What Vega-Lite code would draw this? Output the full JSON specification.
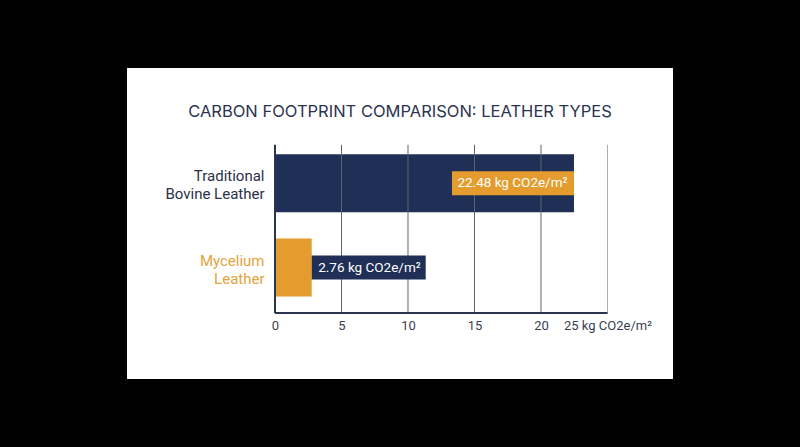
{
  "$schema": "https://vega.github.io/schema/vega-lite/v6.json",
  "description": "Carbon footprint of bovine vs mycelium leather, horizontal bars on a white card.",
  "width": 546,
  "height": 311,
  "autosize": {"type": "none"},
  "padding": {"left": 127, "right": 127, "top": 68, "bottom": 68},
  "background": "#000000",
  "title": {
    "text": "CARBON FOOTPRINT COMPARISON: LEATHER TYPES",
    "frame": "group",
    "anchor": "middle",
    "offset": -52,
    "font": "Inter",
    "fontSize": 16.5,
    "fontWeight": 400,
    "color": "#2b3350"
  },
  "data": {
    "values": [
      {"leather": "Traditional Bovine Leather", "co2": 22.48, "label": "22.48 kg CO2e/m²"},
      {"leather": "Mycelium Leather", "co2": 2.76, "label": "2.76 kg CO2e/m²"}
    ]
  },
  "layer": [
    {
      "mark": {"type": "bar"},
      "encoding": {
        "x": {
          "field": "co2",
          "type": "quantitative",
          "scale": {"domain": [-11.128, 29.925], "nice": false, "zero": false},
          "axis": {
            "title": null,
            "values": [0, 5, 10, 15, 20, 25],
            "offset": -68,
            "domain": false,
            "ticks": false,
            "grid": false,
            "labelPadding": 8,
            "labelFont": "Roboto",
            "labelFontSize": 13,
            "labelColor": "#3a3f4f",
            "labelOverlap": false,
            "labelFlush": false,
            "labelExpr": "datum.value == 25 ? '25 kg CO2e/m²' : datum.label"
          }
        },
        "x2": {"datum": 0},
        "y": {
          "field": "leather",
          "type": "nominal",
          "scale": {
            "domain": ["Traditional Bovine Leather", "Mycelium Leather"],
            "paddingInner": 0.3125,
            "paddingOuter": 1.1,
            "align": 0.511,
            "round": false
          },
          "axis": {
            "title": null,
            "offset": -148,
            "domain": false,
            "ticks": false,
            "grid": false,
            "labelPadding": 11,
            "labelOffset": -7,
            "labelFont": "Roboto",
            "labelFontSize": 15,
            "labelLineHeight": 18,
            "labelLimit": 200,
            "labelColor": {
              "condition": {"test": "datum.value == 'Mycelium Leather'", "value": "#e2a43c"},
              "value": "#2a3148"
            },
            "labelExpr": "[slice(datum.value, 0, indexof(datum.value, ' ')), slice(datum.value, indexof(datum.value, ' ') + 1)]"
          }
        },
        "color": {
          "condition": {"test": "datum.leather == 'Mycelium Leather'", "value": "#e39c2d"},
          "value": "#1f2f55"
        }
      }
    },
    {
      "data": {"values": [{"tick": 0}, {"tick": 5}, {"tick": 10}, {"tick": 15}, {"tick": 20}, {"tick": 25}]},
      "mark": {"type": "rule", "yOffset": -38.4, "y2Offset": 45.6},
      "encoding": {
        "x": {"field": "tick", "type": "quantitative"},
        "y": {"datum": "Traditional Bovine Leather"},
        "y2": {"datum": "Mycelium Leather"},
        "color": {
          "condition": [
            {"test": "datum.tick == 0", "value": "#2b3450"},
            {"test": "datum.tick == 25", "value": "#a9adb4"}
          ],
          "value": "#5f6472"
        },
        "strokeWidth": {"condition": {"test": "datum.tick == 0", "value": 2}, "value": 1}
      }
    },
    {
      "data": {"values": [{}]},
      "mark": {"type": "rule", "yOffset": 45.6, "strokeWidth": 2, "color": "#2b3450"},
      "encoding": {
        "x": {"datum": 0},
        "x2": {"datum": 25},
        "y": {"datum": "Mycelium Leather"}
      }
    },
    {
      "transform": [{"filter": "datum.leather == 'Traditional Bovine Leather'"}],
      "mark": {"type": "bar", "height": 24, "xOffset": -122, "color": "#e39c2d"},
      "encoding": {
        "x": {"field": "co2", "type": "quantitative"},
        "x2": {"field": "co2"},
        "y": {"field": "leather", "type": "nominal"}
      }
    },
    {
      "transform": [{"filter": "datum.leather == 'Mycelium Leather'"}],
      "mark": {"type": "bar", "height": 24, "x2Offset": 114, "color": "#1f2f55"},
      "encoding": {
        "x": {"field": "co2", "type": "quantitative"},
        "x2": {"field": "co2"},
        "y": {"field": "leather", "type": "nominal"}
      }
    },
    {
      "transform": [{"filter": "datum.leather == 'Traditional Bovine Leather'"}],
      "mark": {"type": "text", "align": "right", "baseline": "middle", "dx": -6.5, "font": "Roboto", "fontSize": 13.5, "color": "#ffffff"},
      "encoding": {
        "x": {"field": "co2", "type": "quantitative"},
        "y": {"field": "leather", "type": "nominal"},
        "text": {"field": "label"}
      }
    },
    {
      "transform": [{"filter": "datum.leather == 'Mycelium Leather'"}],
      "mark": {"type": "text", "align": "left", "baseline": "middle", "dx": 6.5, "font": "Roboto", "fontSize": 13.5, "color": "#ffffff"},
      "encoding": {
        "x": {"field": "co2", "type": "quantitative"},
        "y": {"field": "leather", "type": "nominal"},
        "text": {"field": "label"}
      }
    }
  ],
  "config": {
    "view": {"fill": "#ffffff", "stroke": null},
    "axis": {"grid": false, "domain": false, "ticks": false},
    "font": "Roboto"
  }
}
